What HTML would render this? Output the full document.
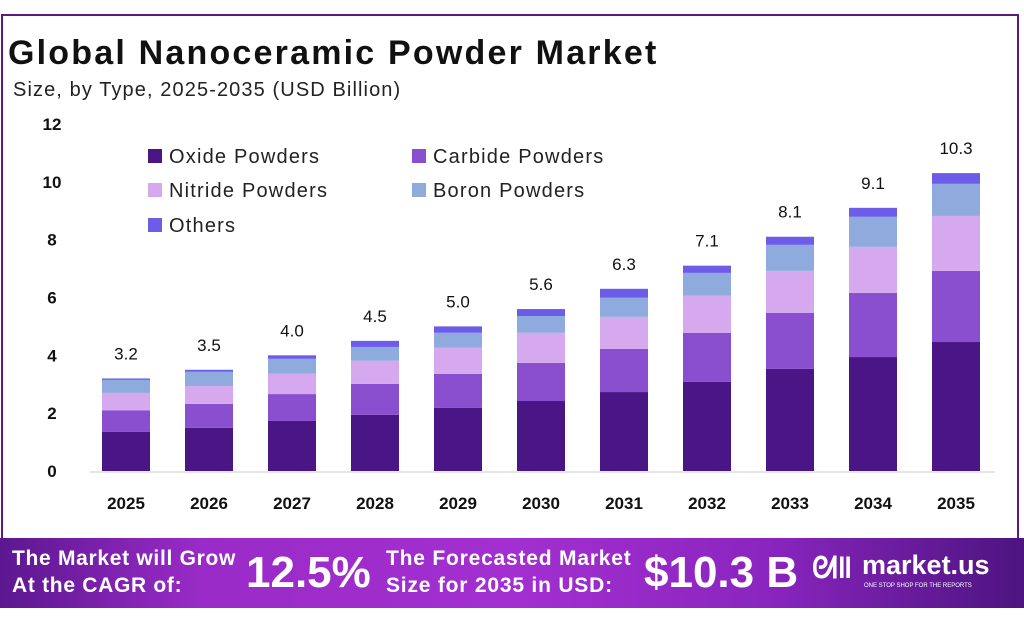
<!DOCTYPE html>
<html><head><meta charset="utf-8"><style>
body{margin:0;width:1024px;height:624px;background:#fff;font-family:"Liberation Sans",sans-serif;overflow:hidden;position:relative}
.frame{position:absolute;left:1px;top:14px;width:1018px;height:526px;border:2px solid #5a1a80;border-bottom:none;box-sizing:border-box}
.t{position:absolute;white-space:nowrap}
.banner{position:absolute;left:0;top:538px;width:1024px;height:70px;background:linear-gradient(90deg,#5c1790 0%,#9a2bc8 20%,#a32fd0 50%,#8a25bf 75%,#4d1480 100%)}
.banner .t{color:#fff;font-weight:bold}
</style></head><body>
<div class="frame"></div>
<div class="t" style="left:8px;top:34px;font-size:34px;letter-spacing:2.2px;font-weight:bold;color:#111">Global Nanoceramic Powder Market</div>
<div class="t" style="left:13px;top:79px;font-size:20px;letter-spacing:1.1px;color:#222">Size, by Type, 2025-2035 (USD Billion)</div>
<svg id="chart" width="1024" height="540" style="position:absolute;left:0;top:0"></svg>
<div class="banner">
<div class="t" style="left:12px;top:7px;font-size:21px;letter-spacing:0.7px;line-height:27px">The Market will Grow<br>At the CAGR of:</div>
<div class="t" style="left:246px;top:10px;font-size:44px">12.5%</div>
<div class="t" style="left:386px;top:7px;font-size:21px;letter-spacing:0.8px;line-height:27px">The Forecasted Market<br>Size for 2035 in USD:</div>
<div class="t" style="left:644px;top:10px;font-size:44px">$10.3 B</div>
<div class="t" style="left:812px;top:14px;font-size:30px">ᘛǁ</div>
<div class="t" style="left:862px;top:12px;font-size:27px">market.us</div>
<div class="t" style="left:864px;top:45px;font-size:6px;font-weight:normal">ONE STOP SHOP FOR THE REPORTS</div>
</div>
<script>
const years=["2025","2026","2027","2028","2029","2030","2031","2032","2033","2034","2035"];
const oxide=[1.35,1.49,1.73,1.94,2.18,2.42,2.73,3.08,3.53,3.94,4.46];
const carbide=[0.75,0.83,0.93,1.07,1.18,1.32,1.49,1.70,1.94,2.22,2.46];
const nitride=[0.60,0.62,0.70,0.80,0.90,1.04,1.11,1.28,1.45,1.59,1.90];
const boron=[0.45,0.49,0.52,0.48,0.52,0.58,0.66,0.79,0.90,1.04,1.11];
const others=[0.05,0.07,0.12,0.21,0.22,0.24,0.31,0.25,0.28,0.31,0.37];
const totals=["3.2","3.5","4.0","4.5","5.0","5.6","6.3","7.1","8.1","9.1","10.3"];
const yTicks=[0,2,4,6,8,10,12];
const series=[oxide,carbide,nitride,boron,others];
const names=["Oxide Powders","Carbide Powders","Nitride Powders","Boron Powders","Others"];
const colors=["#4a1585","#8a4fcf","#d6a9ee","#8faadc","#6c5ce8"];
const svg=document.getElementById('chart');const NS="http://www.w3.org/2000/svg";
const y=v=>471-v*28.92;const x=i=>126+i*83;const bw=48;
function mk(t,a,txt){const e=document.createElementNS(NS,t);for(const k in a)e.setAttribute(k,a[k]);if(txt!==undefined)e.textContent=txt;svg.appendChild(e);return e;}
yTicks.forEach(v=>{const e=mk('text',{x:52,y:y(v)+6,'text-anchor':'middle','font-size':17,'font-weight':'bold',fill:'#111'},v);

});
const ax=mk('line',{x1:90,x2:995,y1:472,y2:472,stroke:'#ccc','stroke-width':1});


years.forEach((yr,i)=>{let b=0;series.forEach((s,k)=>{const r=mk('rect',{x:x(i)-bw/2,y:y(b+s[i]),width:bw,height:s[i]*28.92,fill:colors[k]});

b+=s[i];});
const tl=mk('text',{x:x(i),y:y(b)-19,'text-anchor':'middle','font-size':17,fill:'#111'},totals[i]);


const xl=mk('text',{x:x(i),y:509,'text-anchor':'middle','font-size':17,'font-weight':'bold',fill:'#111'},yr);

});
const lp=[[148,156],[412,156],[148,190],[412,190],[148,225]];
names.forEach((n,k)=>{const g=document.createElementNS(NS,'g');svg.appendChild(g);


const r=document.createElementNS(NS,'rect');r.setAttribute('x',lp[k][0]);r.setAttribute('y',lp[k][1]-7);r.setAttribute('width',14);r.setAttribute('height',14);r.setAttribute('fill',colors[k]);g.appendChild(r);
const t=document.createElementNS(NS,'text');t.setAttribute('x',lp[k][0]+21);t.setAttribute('y',lp[k][1]+7);t.setAttribute('font-size',20);t.setAttribute('letter-spacing','1.2');t.setAttribute('fill','#222');t.textContent=n;g.appendChild(t);});
</script>
</body></html>
